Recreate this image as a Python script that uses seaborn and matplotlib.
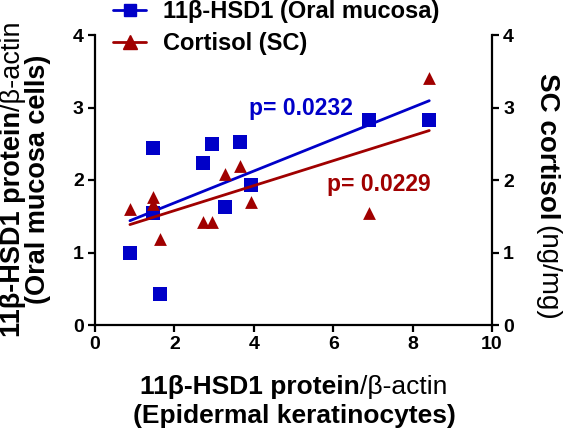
import matplotlib
matplotlib.use("Agg")
import matplotlib.pyplot as plt
import seaborn as sns
import pandas as pd
from matplotlib.lines import Line2D

sns.set_theme(style="ticks")
plt.rcParams['font.family'] = ['Liberation Sans', 'DejaVu Sans']
plt.rcParams['font.weight'] = 'bold'
plt.rcParams['text.color'] = 'black'
plt.rcParams['axes.labelcolor'] = 'black'
plt.rcParams['xtick.color'] = 'black'
plt.rcParams['ytick.color'] = 'black'

# Data
epidermal_x = [0.88, 1.47, 1.45, 1.64, 2.73, 2.95, 3.66, 3.28, 3.94, 6.89, 8.42]
oral_hsd1 = [1.00, 2.44, 1.54, 0.43, 2.24, 2.49, 2.53, 1.63, 1.93, 2.83, 2.83]
cortisol_x = [0.88, 1.47, 1.45, 1.64, 2.73, 2.95, 3.28, 3.66, 3.94, 6.89, 8.42]
sc_cortisol = [1.60, 1.76, 1.67, 1.19, 1.42, 1.42, 2.08, 2.20, 1.70, 1.54, 3.41]
series_labels = ["11\u03b2-HSD1 (Oral mucosa)", "Cortisol (SC)"]
p_labels = ["p= 0.0232", "p= 0.0229"]
x_ticks = [0, 2, 4, 6, 8, 10]
y_ticks = [0, 1, 2, 3, 4]

blue = "#0000C8"
red = "#A00000"

W, H = 566, 438
df_b = pd.DataFrame({"x": epidermal_x, "y": oral_hsd1})
df_r = pd.DataFrame({"x": cortisol_x, "y": sc_cortisol})

fig = plt.figure(figsize=(W / 100, H / 100), dpi=100)
ax = fig.add_axes([95 / W, (H - 325) / H, 397 / W, 290 / H])
ax2 = ax.twinx()

sns.regplot(data=df_b, x="x", y="y", ax=ax, ci=None, truncate=True,
            marker="s", color=blue,
            scatter_kws=dict(s=90, linewidths=0, alpha=1, zorder=3),
            line_kws=dict(lw=2))
sns.regplot(data=df_r, x="x", y="y", ax=ax2, ci=None, truncate=True,
            marker="^", color=red,
            scatter_kws=dict(s=85, linewidths=0, alpha=1, zorder=3),
            line_kws=dict(lw=2))

for a in (ax, ax2):
    a.set_xlim(0, 10)
    a.set_ylim(0, 4)
    a.set_yticks(y_ticks)
    a.spines['top'].set_visible(False)
    for s in a.spines.values():
        s.set_linewidth(1.6)
        s.set_color('black')
    a.tick_params(width=1.6, length=5, pad=3, labelsize=14, colors='black')
    a.set_xlabel("")
    a.set_ylabel("")
ax.set_xticks(x_ticks)
ax2.spines['left'].set_visible(False)
ax2.spines['bottom'].set_visible(False)
ax.spines['right'].set_visible(False)
for lab in ax.get_xticklabels() + ax.get_yticklabels() + ax2.get_yticklabels():
    lab.set_fontweight('bold')

ax.text(3.88, 2.98, p_labels[0], color=blue, fontsize=16.5, fontweight='bold',
        va='center', ha='left')
ax2.text(5.84, 1.94, p_labels[1], color=red, fontsize=16.5, fontweight='bold',
         va='center', ha='left')

handles = [Line2D([], [], color=blue, marker='s', lw=2, markersize=9),
           Line2D([], [], color=red, marker='^', lw=2, markersize=9.5)]
fig.legend(handles, series_labels, loc='upper left',
           bbox_to_anchor=(113 / W, 1.0), borderpad=0, borderaxespad=0,
           frameon=False, prop=dict(size=17, weight='bold'),
           handlelength=1.4, labelspacing=0.38, handletextpad=0.72)

# Axis titles with mixed weights (bold main text, regular "/β-actin")
renderer = fig.canvas.get_renderer()


def mixed(parts, pos_px, center_px, size, rotation=0, gap=0):
    widths = []
    for s, wt in parts:
        t = fig.text(0, 0, s, fontsize=size, fontweight=wt)
        widths.append(t.get_window_extent(renderer).width)
        t.remove()
    total = sum(widths) + gap * (len(parts) - 1)
    off = -total / 2
    for (s, wt), w in zip(parts, widths):
        if rotation == 0:
            x, y = center_px + off, H - pos_px
        elif rotation == 90:
            x, y = pos_px, H - center_px + off
        else:
            x, y = pos_px, H - center_px - off
        fig.text(x / W, y / H, s, fontsize=size, fontweight=wt,
                 rotation=rotation, rotation_mode='anchor',
                 ha='left', va='baseline')
        off += w + gap


line1 = [("11\u03b2-HSD1 protein", 'bold'), ("/\u03b2-actin", 'normal')]
mixed(line1, 394, 294, 19)
mixed([("(Epidermal keratinocytes)", 'bold')], 423, 294, 19)
mixed(line1, 20.5, 179, 19.5, rotation=90)
mixed([("(Oral mucosa cells)", 'bold')], 45, 179, 19.5, rotation=90)
mixed([("SC cortisol", 'bold'), ("(ng/mg)", 'normal')], 540, 197, 20,
      rotation=-90, gap=6)

fig.savefig("out.png", dpi=100)
